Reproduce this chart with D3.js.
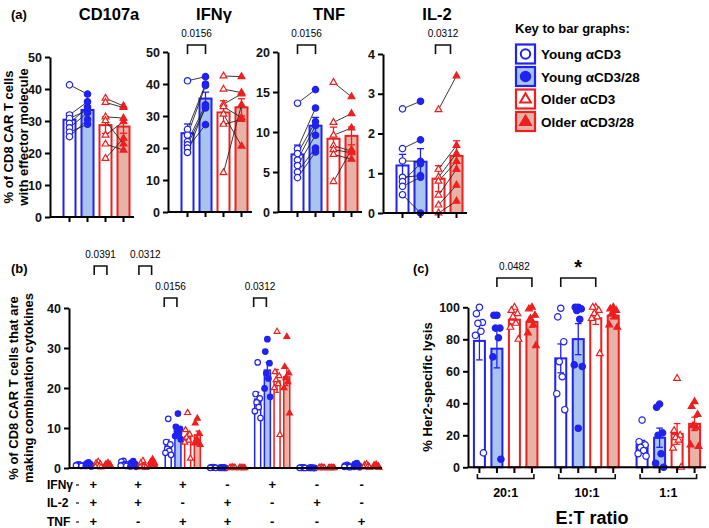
<!DOCTYPE html>
<html>
<head>
<meta charset="utf-8">
<script src="https://cdn.jsdelivr.net/npm/d3@7"></script>
<style>
  body { margin: 0; background: #fff; }
  text { font-family: "Liberation Sans", Arial, sans-serif; }
</style>
</head>
<body>
<div id="chart"></div>
<script>
// groups, in key order
const groupNames = ["Young \u03b1CD3", "Young \u03b1CD3/28", "Older \u03b1CD3", "Older \u03b1CD3/28"];

// (a) paired donors, % of CD8 CAR T cells, same order in each pair of arrays
const cd107a = [
  [41.3, 31.9, 30.8, 29.3, 27.9, 26.5, 25.1],
  [38.4, 36.0, 33.4, 34.3, 32.6, 29.0, 30.5],
  [37.1, 35.8, 31.3, 30.1, 25.6, 22.8, 18.3],
  [34.7, 34.2, 30.9, 22.8, 29.8, 20.9, 24.6]
];
const ifng = [
  [41.0, 25.8, 24.0, 22.0, 21.0, 20.0, 18.6],
  [42.3, 40.0, 39.5, 33.5, 32.5, 27.3, 33.0],
  [42.5, 38.4, 33.7, 32.9, 30.6, 27.4, 12.3],
  [42.3, 37.3, 36.9, 29.5, 20.6, 28.9, 33.5]
];
const tnf = [
  [13.6, 7.9, 7.3, 6.5, 5.8, 5.0, 4.3],
  [15.3, 13.0, 11.3, 10.8, 9.6, 8.0, 7.5],
  [16.2, 11.2, 9.6, 8.3, 7.8, 7.2, 3.8],
  [14.4, 12.3, 10.5, 7.6, 7.4, 6.6, 7.8]
];
const il2 = [
  [2.62, 1.62, 1.31, 0.90, 0.79, 0.67, 0.46],
  [2.81, 1.84, 1.30, 0.94, 1.24, 0.90, 0.00],
  [2.60, 1.10, 0.90, 0.80, 0.45, 0.20, 0.00],
  [3.45, 1.70, 1.50, 1.30, 1.10, 0.70, 0.30]
];

// (b) cytokine combinations
const combIFNg = ["+", "+", "+", "-", "+", "-", "-"];
const combIL2  = ["+", "+", "-", "+", "-", "+", "-"];
const combTNF  = ["+", "-", "+", "+", "-", "-", "+"];
const combo1 = [[0.9, 0.8, 0.7, 0.7, 0.6, 0.6, 0.5], [1.4, 1.1, 0.9, 0.7, 0.6, 0.5, 0.4], [1.6, 1.2, 1.0, 0.8, 0.5, 0.3, 0.2], [1.3, 1.0, 0.9, 0.7, 0.6, 0.5, 0.4]];
const combo2 = [[1.8, 1.6, 1.0, 0.8, 0.7, 0.6, 0.5], [1.7, 1.3, 1.0, 0.8, 0.6, 0.4, 0.3], [1.8, 1.2, 0.6, 0.4, 0.3, 0.2, 0.1], [2.2, 1.5, 1.2, 0.9, 0.7, 0.5, 0.3]];
const combo3 = [[12.3, 6.5, 5.9, 4.8, 4.3, 3.8, 3.3], [13.6, 10.3, 9.8, 9.2, 8.7, 8.0, 7.2], [13.8, 9.5, 8.4, 7.6, 6.9, 6.4, 2.4], [12.4, 11.2, 8.6, 7.0, 6.6, 6.2, 5.8]];
const combo4 = [[0.2, 0.15, 0.1, 0.1, 0.1, 0.05, 0.05], [0.15, 0.1, 0.1, 0.05, 0.05, 0.05, 0.0], [0.2, 0.1, 0.1, 0.05, 0.05, 0.0, 0.0], [0.1, 0.1, 0.05, 0.05, 0.0, 0.0, 0.0]];
const combo5 = [[26.4, 18.5, 17.4, 16.4, 15.2, 14.2, 12.5], [32.2, 29.1, 26.2, 23.7, 22.4, 19.9, 17.8], [34.1, 24.0, 23.0, 22.0, 21.0, 20.0, 8.3], [32.8, 25.3, 23.7, 22.5, 21.5, 20.0, 13.7]];
const combo6 = [[0.15, 0.1, 0.1, 0.05, 0.05, 0.05, 0.0], [0.1, 0.1, 0.05, 0.05, 0.0, 0.0, 0.0], [0.2, 0.1, 0.05, 0.05, 0.0, 0.0, 0.0], [0.1, 0.05, 0.05, 0.0, 0.0, 0.0, 0.0]];
const combo7 = [[0.8, 0.6, 0.5, 0.4, 0.3, 0.3, 0.2], [1.2, 1.0, 0.6, 0.5, 0.4, 0.3, 0.2], [1.0, 0.7, 0.5, 0.4, 0.3, 0.2, 0.1], [0.9, 0.7, 0.5, 0.4, 0.3, 0.2, 0.1]];

// (c) % Her2-specific lysis by E:T ratio
const ratios = ["20:1", "10:1", "1:1"];
const lysis20 = [[100, 96, 90.5, 90, 85, 82.5, 9], [95, 95, 87, 87, 81, 69, 5], [100, 98, 96, 94, 90, 87.5, 80], [100, 99, 95, 93, 89, 84, 76]];
const lysis10 = [[99.4, 94, 78.5, 66, 56.6, 46, 36], [100, 100, 99, 98, 92.5, 64, 63, 24.4], [100, 100, 98, 96, 94, 93, 71], [100, 99, 98, 96, 94, 89, 87.5]];
const lysis1  = [[29.5, 16, 14, 12.5, 10.5, 8.5, 7], [39.5, 37.5, 21.5, 20, 8.5, 2.5, 0], [55.6, 23, 20, 18.5, 17, 12, 0], [41, 38, 33, 26, 25, 14, 13]];

const blue = "#1f22f2", red = "#f01e1e";
const styles = [
  { color: blue, fill: "#fff", shape: d3.symbolCircle, solid: false },
  { color: blue, fill: "#a9c4ef", shape: d3.symbolCircle, solid: true },
  { color: red, fill: "#fff", shape: d3.symbolTriangle, solid: false },
  { color: red, fill: "#e8b3a7", shape: d3.symbolTriangle, solid: true }
];
const jitter = [0, -3, 3, -1.5, 1.5, -4, 4, 0];

const svg = d3.select("#chart").append("svg")
  .attr("width", 709).attr("height", 528);

const sem = v => d3.deviation(v) / Math.sqrt(v.length);

function marker(g, gi, x, y, size) {
  const st = styles[gi];
  const isCircle = st.shape === d3.symbolCircle;
  g.append("path")
    .attr("d", d3.symbol(st.shape, isCircle ? size : size * 0.62)())
    .attr("transform", `translate(${x},${y})`)
    .attr("fill", st.solid ? st.color : "#fff")
    .attr("stroke", st.color)
    .attr("stroke-width", 1.2);
}

function bar(g, gi, cx, w, y, vals, sw) {
  const st = styles[gi];
  const m = d3.mean(vals), e = sem(vals);
  g.append("rect")
    .attr("x", cx - w / 2).attr("y", y(m))
    .attr("width", w).attr("height", y(0) - y(m))
    .attr("fill", st.fill).attr("stroke", st.color).attr("stroke-width", sw);
  const lo = Math.max(0, m - e), hi = m + e;
  g.append("line").attr("x1", cx).attr("x2", cx).attr("y1", y(lo)).attr("y2", y(hi))
    .attr("stroke", st.color).attr("stroke-width", 1.3);
  [lo, hi].forEach(v => g.append("line")
    .attr("x1", cx - w * 0.3).attr("x2", cx + w * 0.3).attr("y1", y(v)).attr("y2", y(v))
    .attr("stroke", st.color).attr("stroke-width", 1.3));
}

function yAxis(g, x0, y, ticks, fontSize) {
  const ax = g.append("g").attr("transform", `translate(${x0},0)`)
    .call(d3.axisLeft(y).tickValues(ticks).tickFormat(d3.format("d"))
      .tickSize(5).tickPadding(3).tickSizeOuter(0));
  ax.select(".domain").attr("stroke-width", 2);
  ax.selectAll(".tick line").attr("stroke-width", 2);
  ax.selectAll("text").attr("font-size", fontSize).attr("font-weight", "bold").attr("fill", "#111");
}

function bracket(x1, x2, yTop, label, opts = {}) {
  const g = svg.append("g");
  g.append("path")
    .attr("d", `M${x1},${yTop + 9}V${yTop}H${x2}V${yTop + 9}`)
    .attr("fill", "none").attr("stroke", "#111").attr("stroke-width", 1.6);
  g.append("text").attr("x", (x1 + x2) / 2).attr("y", yTop - (opts.bold ? 4 : 8))
    .attr("text-anchor", "middle")
    .attr("font-size", opts.bold ? 20 : 10)
    .attr("font-weight", opts.bold ? "bold" : "normal")
    .text(label);
}

function rotLabel(lines, xs, yc, size) {
  lines.forEach((t, i) => svg.append("text")
    .attr("transform", `translate(${xs[i]},${yc}) rotate(-90)`)
    .attr("text-anchor", "middle").attr("font-size", size).attr("font-weight", "bold")
    .text(t));
}

// ---------- (a) ----------
const panelsA = [
  { title: "CD107a", tx: 109, data: cd107a, x0: 50, y0: 217, y1: 57, max: 50, ticks: d3.range(0, 51, 10) },
  { title: "IFN\u03b3", tx: 214, data: ifng, x0: 168, y0: 212, y1: 52, max: 50, ticks: d3.range(0, 51, 10) },
  { title: "TNF", tx: 329, data: tnf, x0: 278, y0: 212, y1: 52, max: 20, ticks: d3.range(0, 21, 5) },
  { title: "IL-2", tx: 437, data: il2, x0: 383, y0: 213, y1: 54, max: 4, ticks: d3.range(0, 5, 1) }
];

const centersA = [];
panelsA.forEach(p => {
  const g = svg.append("g");
  const y = d3.scaleLinear().domain([0, p.max]).range([p.y0, p.y1]);
  const x = d3.scaleBand().domain(d3.range(4)).range([p.x0 + 10.5, p.x0 + 82.5]);
  const cx = i => x(i) + x.bandwidth() / 2;
  centersA.push(d3.range(4).map(cx));
  p.data.forEach((vals, gi) => bar(g, gi, cx(gi), 12, y, vals, 2));
  // paired lines
  [[0, 1], [2, 3]].forEach(([a, b]) => {
    p.data[a].forEach((v, k) => g.append("line")
      .attr("x1", cx(a)).attr("y1", y(v)).attr("x2", cx(b)).attr("y2", y(p.data[b][k]))
      .attr("stroke", "#222").attr("stroke-width", 0.9));
  });
  p.data.forEach((vals, gi) => vals.forEach(v => marker(g, gi, cx(gi), y(v), 32)));
  yAxis(g, p.x0, y, p.ticks, 12.5);
  const xa = g.append("g").attr("transform", `translate(0,${p.y0})`)
    .call(d3.axisBottom(x).tickFormat("").tickSize(5).tickSizeOuter(0));
  xa.select(".domain").remove();
  xa.selectAll(".tick line").attr("stroke-width", 2);
  g.append("line").attr("x1", p.x0).attr("x2", p.x0 + 84).attr("y1", p.y0).attr("y2", p.y0)
    .attr("stroke", "#000").attr("stroke-width", 2);
  svg.append("text").attr("x", p.tx).attr("y", 20).attr("text-anchor", "middle")
    .attr("font-size", 16.5).attr("font-weight", "bold").text(p.title);
});

svg.append("text").attr("x", 11).attr("y", 19).attr("font-size", 13).attr("font-weight", "bold").text("(a)");
rotLabel(["% of CD8 CAR T cells", "with effector molecule"], [13, 28], 137, 13);

bracket(centersA[1][0], centersA[1][1], 45, "0.0156");
bracket(centersA[2][0], centersA[2][1], 45, "0.0156");
bracket(centersA[3][2] - 3, centersA[3][3] - 6, 45, "0.0312");

// legend
svg.append("text").attr("x", 515).attr("y", 33).attr("font-size", 13).attr("font-weight", "bold")
  .text("Key to bar graphs:");
groupNames.forEach((name, gi) => {
  const cy = 54 + gi * 22.5, st = styles[gi];
  const lg = svg.append("g");
  lg.append("rect").attr("x", 516).attr("y", cy - 9.5).attr("width", 19).attr("height", 19)
    .attr("fill", st.fill).attr("stroke", st.color).attr("stroke-width", 2.2);
  lg.append("path")
    .attr("d", d3.symbol(st.shape, st.shape === d3.symbolCircle ? 70 : 50)())
    .attr("transform", `translate(525.5,${cy + (st.shape === d3.symbolCircle ? 0 : 0.5)})`)
    .attr("fill", st.solid ? st.color : "#fff").attr("stroke", st.color).attr("stroke-width", 2);
  lg.append("text").attr("x", 541).attr("y", cy + 5).attr("font-size", 13.5).attr("font-weight", "bold")
    .text(name);
});

// ---------- (b) ----------
const combos = [combo1, combo2, combo3, combo4, combo5, combo6, combo7];
const yB = d3.scaleLinear().domain([0, 40]).range([468, 308]);
const xB = d3.scaleBand().domain(d3.range(7)).range([71, 384]);
const xIn = d3.scaleBand().domain(d3.range(4)).range([-19.4, 19.4]);
const bx = (c, gi) => xB(c) + xB.bandwidth() / 2 + xIn(gi) + xIn.bandwidth() / 2;
const gB = svg.append("g");
combos.forEach((combo, c) => {
  combo.forEach((vals, gi) => bar(gB, gi, bx(c, gi), 6, yB, vals, 1.5));
  combo.forEach((vals, gi) => vals.forEach((v, k) => marker(gB, gi, bx(c, gi) + jitter[k] * 0.7, yB(v), 24)));
});
yAxis(gB, 69, yB, d3.range(0, 41, 10), 12.5);
gB.append("line").attr("x1", 69).attr("x2", 382).attr("y1", 468).attr("y2", 468)
  .attr("stroke", "#000").attr("stroke-width", 2);

svg.append("text").attr("x", 11).attr("y", 273).attr("font-size", 13).attr("font-weight", "bold").text("(b)");
rotLabel(["% of CD8 CAR T cells that are", "making combination cytokines"], [18, 33], 388, 13);

[["IFN\u03b3", combIFNg, 489], ["IL-2", combIL2, 507], ["TNF", combTNF, 526]].forEach(([lab, signs, yy]) => {
  svg.append("text").attr("x", 47).attr("y", yy).attr("font-size", 12).attr("font-weight", "bold").text(lab);
  svg.append("line").attr("x1", 76).attr("x2", 79).attr("y1", yy - 4).attr("y2", yy - 4)
    .attr("stroke", "#111").attr("stroke-width", 1.2);
  signs.forEach((s, c) => svg.append("text")
    .attr("x", xB(c) + xB.bandwidth() / 2).attr("y", yy)
    .attr("text-anchor", "middle").attr("font-size", 13).attr("font-weight", "bold")
    .text(s === "-" ? "-" : "+"));
});

bracket(bx(0, 2) - 4, bx(0, 3) - 1, 266, "0.0391");
bracket(bx(1, 2) - 4, bx(1, 3) - 1, 266, "0.0312");
bracket(bx(2, 0) - 4, bx(2, 1) - 1, 298, "0.0156");
bracket(bx(4, 0) - 4, bx(4, 1) - 1, 298, "0.0312");

// ---------- (c) ----------
const lysis = [lysis20, lysis10, lysis1];
const yC = d3.scaleLinear().domain([0, 100]).range([467.3, 307.3]);
const xC = d3.scaleBand().domain(ratios).range([465, 709]);
const xCi = d3.scaleBand().domain(d3.range(4)).range([-35, 35]);
const cxC = (r, gi) => xC(r) + xC.bandwidth() / 2 + xCi(gi) + xCi.bandwidth() / 2;
const gC = svg.append("g");
lysis.forEach((set, ri) => {
  set.forEach((vals, gi) => bar(gC, gi, cxC(ratios[ri], gi), 11, yC, vals, 2));
  set.forEach((vals, gi) => vals.forEach((v, k) => marker(gC, gi, cxC(ratios[ri], gi) + jitter[k], yC(v), 32)));
});
yAxis(gC, 468, yC, d3.range(0, 101, 20), 12.5);
gC.append("line").attr("x1", 468).attr("x2", 706).attr("y1", 467.3).attr("y2", 467.3)
  .attr("stroke", "#000").attr("stroke-width", 2);
ratios.forEach(r => {
  d3.range(4).forEach(gi => gC.append("line")
    .attr("x1", cxC(r, gi)).attr("x2", cxC(r, gi)).attr("y1", 467.3).attr("y2", 473)
    .attr("stroke", "#000").attr("stroke-width", 2));
  const a = cxC(r, 0) - 2, b = cxC(r, 3) + 2;
  gC.append("path").attr("d", `M${a},474V478.5H${b}V474`)
    .attr("fill", "none").attr("stroke", "#111").attr("stroke-width", 1.6);
  gC.append("text").attr("x", (a + b) / 2).attr("y", 496.5).attr("text-anchor", "middle")
    .attr("font-size", 12.5).attr("font-weight", "bold").text(r);
});
svg.append("text").attr("x", 592).attr("y", 523.5).attr("text-anchor", "middle")
  .attr("font-size", 18).attr("font-weight", "bold").text("E:T ratio");
svg.append("text").attr("x", 413).attr("y", 273).attr("font-size", 13).attr("font-weight", "bold").text("(c)");
rotLabel(["% Her2-specific lysis"], [432], 387, 13);

bracket(cxC("20:1", 1), cxC("20:1", 3), 278, "0.0482");
bracket(cxC("10:1", 0), cxC("10:1", 2), 278, "*", { bold: true });
</script>
</body>
</html>
